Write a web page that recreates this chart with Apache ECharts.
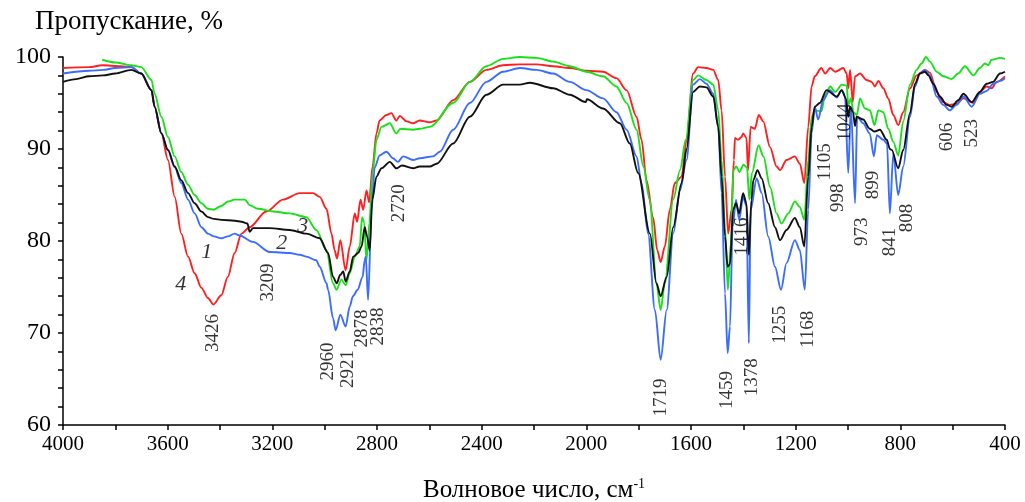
<!DOCTYPE html>
<html>
<head>
<meta charset="utf-8">
<script src="https://cdn.jsdelivr.net/npm/echarts@6/dist/echarts.min.js"></script>
<style>
  html, body { margin: 0; padding: 0; background: #fff; }
  #chart { width: 1025px; height: 502px; }
</style>
</head>
<body>
<div id="chart"></div>
<script>
// wavenumber (cm-1), transmittance (%)
var curve1 = [[4000,97.3],[3950,97.6],[3900,97.9],[3847,98.0],[3800,98.2],[3739,98.6],[3701,98.2],[3662,96.4],[3650,94.6],[3624,91.7],[3599,89.9],[3573,88.1],[3548,86.6],[3522,85.2],[3497,84.1],[3471,83.2],[3446,82.6],[3423,82.4],[3395,82.3],[3344,82.2],[3318,82.1],[3295,81.9],[3287,81.0],[3274,81.4],[3210,81.4],[3134,81.2],[3070,80.8],[3019,80.3],[2987,78.7],[2968,76.1],[2954,75.4],[2941,76.3],[2929,76.7],[2920,75.6],[2904,76.7],[2891,78.3],[2872,78.7],[2859,79.4],[2847,81.5],[2838,80.5],[2828,79.0],[2818,84.5],[2802,87.0],[2783,87.9],[2751,88.6],[2726,87.9],[2705,88.2],[2662,87.9],[2637,88.1],[2598,88.1],[2572,88.4],[2509,90.6],[2445,93.5],[2382,95.9],[2318,97.0],[2254,97.0],[2216,97.2],[2127,96.6],[2063,95.9],[2002,95.1],[1998,95.4],[1936,94.4],[1872,92.8],[1834,90.6],[1802,87.4],[1757,80.8],[1732,75.4],[1716,74.0],[1693,76.1],[1668,81.5],[1636,86.3],[1617,90.0],[1592,96.2],[1566,96.8],[1541,96.7],[1515,95.7],[1496,92.4],[1483,87.0],[1470,80.5],[1460,77.2],[1451,77.5],[1439,83.4],[1428,84.1],[1416,83.0],[1401,85.2],[1388,84.1],[1379,78.5],[1369,84.5],[1362,86.6],[1346,87.7],[1330,86.8],[1305,84.1],[1279,81.5],[1260,80.1],[1235,81.2],[1203,82.5],[1184,81.5],[1167,79.4],[1152,87.0],[1139,92.4],[1127,94.6],[1108,95.0],[1082,96.4],[1043,95.7],[1024,96.4],[1008,95.5],[999,93.5],[992,94.6],[981,94.0],[973,92.5],[967,93.5],[942,93.2],[917,92.2],[898,91.9],[878,92.1],[852,91.0],[840,90.0],[833,89.9],[808,87.9],[789,89.9],[763,93.9],[744,97.1],[725,98.2],[706,98.4],[693,98.0],[674,97.1],[649,95.7],[623,94.8],[604,94.6],[579,95.3],[559,96.0],[527,95.1],[496,96.2],[470,97.1],[446,97.3],[419,98.2],[400,98.4]];

var curve2 = [[4000,98.2],[3900,98.5],[3847,98.6],[3800,98.8],[3739,98.9],[3701,98.2],[3662,96.4],[3650,94.6],[3624,91.7],[3599,89.9],[3573,88.0],[3548,86.3],[3522,84.5],[3497,83.0],[3471,81.5],[3446,80.8],[3423,80.5],[3395,80.3],[3370,80.5],[3344,80.8],[3325,80.6],[3274,79.9],[3210,78.8],[3134,78.7],[3095,78.5],[3070,78.3],[3032,77.9],[3019,77.2],[2993,75.4],[2987,74.7],[2968,71.6],[2958,70.3],[2940,72.0],[2920,70.7],[2904,72.9],[2892,74.0],[2874,74.7],[2855,76.1],[2847,77.9],[2843,78.3],[2834,73.6],[2821,83.2],[2809,88.0],[2790,89.3],[2764,89.7],[2739,89.0],[2720,88.6],[2700,89.2],[2662,88.8],[2637,89.0],[2586,89.2],[2560,89.7],[2509,92.1],[2445,95.0],[2382,97.3],[2318,98.4],[2254,98.8],[2190,98.6],[2127,98.2],[2063,97.3],[2000,96.4],[1936,95.5],[1885,94.0],[1846,92.1],[1808,89.2],[1789,86.3],[1764,80.8],[1738,72.5],[1716,67.1],[1693,72.5],[1668,80.8],[1642,85.5],[1617,88.8],[1592,97.0],[1566,97.6],[1541,97.1],[1515,96.0],[1496,92.4],[1483,85.2],[1470,74.3],[1460,67.8],[1451,70.7],[1441,81.5],[1428,84.5],[1416,82.3],[1401,84.8],[1388,83.8],[1379,68.9],[1372,83.4],[1349,86.8],[1330,85.2],[1305,80.5],[1279,77.2],[1256,74.7],[1235,77.6],[1203,80.1],[1184,79.0],[1165,74.7],[1152,83.4],[1139,91.7],[1127,94.6],[1114,93.2],[1095,95.3],[1069,96.4],[1043,95.6],[1024,96.4],[1012,95.8],[999,87.4],[989,94.6],[973,84.1],[965,93.5],[942,92.8],[917,91.7],[901,89.2],[890,91.5],[865,91.0],[851,90.6],[840,83.0],[827,89.5],[808,85.0],[789,88.1],[763,93.5],[744,96.8],[725,98.2],[706,98.6],[687,98.0],[661,95.7],[636,94.8],[611,94.2],[585,94.8],[559,95.7],[527,94.6],[496,96.0],[470,96.3],[445,97.1],[419,97.4],[400,97.7]];

var curve3 = [[3850,99.7],[3800,99.4],[3740,99.1],[3701,98.9],[3662,97.5],[3650,96.0],[3624,93.5],[3599,91.3],[3573,89.2],[3548,87.5],[3522,86.1],[3497,85.0],[3471,84.1],[3446,83.5],[3425,83.4],[3395,83.8],[3370,84.3],[3344,84.5],[3305,84.5],[3287,83.9],[3255,83.5],[3197,83.2],[3134,83.0],[3070,82.6],[3032,81.2],[2993,79.0],[2968,75.4],[2955,74.7],[2936,75.8],[2920,75.2],[2904,76.5],[2885,78.3],[2866,79.4],[2857,82.6],[2849,82.0],[2840,77.9],[2829,82.0],[2817,87.4],[2802,91.0],[2783,92.4],[2751,92.8],[2726,91.7],[2710,92.2],[2662,92.1],[2637,92.2],[2598,92.4],[2509,95.0],[2445,97.3],[2382,99.0],[2318,99.8],[2254,100.0],[2190,99.9],[2127,99.5],[2063,99.0],[2000,98.4],[1936,97.9],[1885,96.8],[1846,95.0],[1808,92.1],[1782,88.1],[1758,84.5],[1732,75.4],[1716,72.5],[1700,75.4],[1668,84.5],[1642,87.7],[1620,91.0],[1592,97.5],[1573,98.0],[1541,97.5],[1515,97.0],[1496,94.2],[1483,88.8],[1470,81.5],[1459,74.7],[1448,79.7],[1438,87.7],[1427,88.1],[1415,87.5],[1399,88.3],[1386,88.0],[1377,84.5],[1367,87.4],[1342,90.4],[1323,89.2],[1298,85.9],[1273,83.0],[1254,81.9],[1228,83.0],[1203,84.3],[1184,83.7],[1167,82.3],[1152,88.8],[1139,93.5],[1127,94.2],[1102,94.1],[1087,95.9],[1068,96.8],[1049,96.2],[1023,97.0],[1005,96.9],[999,94.8],[989,95.5],[979,94.0],[966,93.7],[954,95.5],[935,94.4],[916,94.2],[899,92.6],[884,94.2],[865,94.0],[846,92.2],[827,90.8],[808,89.3],[789,93.0],[763,97.0],[738,98.6],[719,99.3],[702,100.0],[687,99.5],[661,98.4],[636,97.9],[604,97.6],[579,98.2],[553,99.0],[521,98.0],[496,98.8],[477,99.3],[464,99.1],[451,99.7],[419,99.9],[400,99.8]];

var curve4 = [[4000,98.8],[3900,98.9],[3850,99.1],[3780,99.0],[3739,98.9],[3701,98.2],[3662,96.4],[3650,94.6],[3624,91.7],[3599,88.8],[3573,84.8],[3548,80.8],[3522,78.3],[3497,76.5],[3471,74.9],[3446,73.8],[3425,73.1],[3395,74.1],[3370,76.1],[3344,78.7],[3318,80.8],[3287,81.5],[3223,83.2],[3159,84.5],[3095,85.2],[3044,85.2],[3019,84.8],[2993,83.5],[2974,80.8],[2962,79.0],[2953,78.1],[2940,80.1],[2920,76.8],[2904,79.4],[2885,83.0],[2876,82.1],[2863,84.5],[2853,83.4],[2840,85.5],[2830,84.2],[2817,88.1],[2802,91.7],[2790,93.1],[2764,93.7],[2745,93.9],[2726,93.1],[2713,93.6],[2687,93.0],[2662,92.8],[2637,93.1],[2598,92.9],[2572,93.1],[2509,95.3],[2445,97.3],[2382,98.6],[2318,99.1],[2254,99.2],[2190,99.2],[2127,99.0],[2063,98.8],[2000,98.5],[1936,98.4],[1885,97.7],[1846,96.4],[1808,93.5],[1789,91.0],[1770,86.6],[1745,82.6],[1729,79.0],[1716,77.7],[1700,79.4],[1681,83.4],[1662,86.3],[1636,87.0],[1617,91.0],[1592,98.2],[1573,98.9],[1541,98.8],[1515,98.6],[1496,97.5],[1483,94.2],[1470,87.0],[1458,80.8],[1445,83.4],[1436,88.8],[1432,91.2],[1420,91.0],[1407,91.3],[1401,91.7],[1388,91.2],[1382,87.7],[1372,92.4],[1356,92.2],[1341,93.7],[1324,93.0],[1298,90.2],[1273,88.1],[1260,87.7],[1235,88.8],[1203,89.2],[1184,88.4],[1167,86.3],[1152,92.4],[1139,96.8],[1127,97.9],[1102,98.8],[1087,98.2],[1068,98.8],[1049,98.4],[1018,98.8],[1005,98.2],[999,96.6],[992,98.6],[982,95.1],[973,97.9],[954,98.2],[929,97.5],[910,97.3],[897,96.8],[884,97.4],[865,96.6],[846,95.5],[827,93.7],[808,92.6],[789,94.0],[763,96.6],[738,98.0],[706,98.6],[687,98.3],[661,96.2],[636,95.1],[611,94.8],[585,94.9],[559,95.5],[521,95.0],[496,96.2],[470,96.8],[451,96.6],[432,97.3],[400,97.9]];

var xTicks = [4000, 3600, 3200, 2800, 2400, 2000, 1600, 1200, 800, 400];
var yTicks = [60, 70, 80, 90, 100];

var peakText = ['3426','3209','2960','2921','2878','2838','2720','1719','1459','1416','1378','1255','1168','1105','1044','998','973','899','841','808','606','523'];
// where each peak caption sits (axis units)
var peakAnchor = [[3426,70.0],[3218,75.5],[2988,66.9],[2912,66.1],[2858,70.5],[2797,70.7],[2717,84.1],[1715,63.0],[1463,63.8],[1406,80.5],[1368,65.2],[1260,70.9],[1153,70.4],[1088,88.6],[1012,92.9],[1040,84.7],[947,81.0],[905,86.1],[840,79.9],[775,82.5],[622,91.3],[526,91.7]];

var curveNames = ['1', '2', '3', '4'];
var curveAnchor = [[3451,78.8],[3164,79.8],[3084,81.6],[3550,75.3]];

var serif = 'Liberation Serif';

function lineSeries(name, data, color) {
  return {
    name: name,
    type: 'line',
    data: data,
    showSymbol: false,
    smooth: 0.3,
    smoothMonotone: 'x',
    lineStyle: { color: color, width: 1.9 },
    itemStyle: { color: color },
    silent: true
  };
}

var myChart = echarts.init(document.getElementById('chart'));

myChart.setOption({
  animation: false,
  backgroundColor: '#fff',
  grid: { left: 63, right: 20, top: 57, bottom: 77, outerBoundsMode: 'none' },
  xAxis: {
    type: 'value',
    inverse: true,
    min: 400,
    max: 4000,
    interval: 400,
    name: '{a|Волновое число, см}{s|-1}',
    nameLocation: 'middle',
    nameGap: 52,
    nameTextStyle: {
      rich: {
        a: { fontFamily: serif, fontSize: 25, color: '#000' },
        s: { fontFamily: serif, fontSize: 14, color: '#000', verticalAlign: 'top', padding: [0, 0, 12, 0] }
      }
    },
    axisLine: { show: true, lineStyle: { color: '#000', width: 1.5 } },
    axisTick: { show: true, length: 5, lineStyle: { color: '#000', width: 1.5 } },
    minorTick: { show: true, splitNumber: 2, length: 5, lineStyle: { color: '#000', width: 1.5 } },
    splitLine: { show: false },
    axisLabel: {
      margin: 9,
      fontFamily: serif,
      fontSize: 21,
      color: '#000',
      formatter: function (v) { return xTicks.indexOf(v) >= 0 ? String(v) : ''; }
    }
  },
  yAxis: {
    type: 'value',
    min: 60,
    max: 100,
    interval: 10,
    name: 'Пропускание, %',
    nameLocation: 'end',
    nameGap: 22,
    nameTextStyle: { fontFamily: serif, fontSize: 27, color: '#000', align: 'left', padding: [0, 0, 0, -28] },
    axisLine: { show: true, lineStyle: { color: '#000', width: 1.5 } },
    axisTick: { show: true, length: 5, lineStyle: { color: '#000', width: 1.5 } },
    minorTick: { show: true, splitNumber: 5, length: 5, lineStyle: { color: '#000', width: 1.5 } },
    splitLine: { show: false },
    axisLabel: {
      margin: 12,
      fontFamily: serif,
      fontSize: 24,
      color: '#000',
      formatter: function (v) { return yTicks.indexOf(v) >= 0 ? String(v) : ''; }
    }
  },
  series: [
    lineSeries('4', curve4, '#ff1f1f'),
    lineSeries('3', curve3, '#19e019'),
    lineSeries('2', curve2, '#3a6cff'),
    lineSeries('1', curve1, '#111111'),
    {
      type: 'scatter',
      data: peakAnchor,
      symbolSize: 0,
      silent: true,
      z: 5,
      label: {
        show: true,
        position: 'inside',
        rotate: 90,
        fontFamily: serif,
        fontSize: 19,
        color: '#000',
        formatter: function (p) { return peakText[p.dataIndex]; }
      }
    },
    {
      type: 'scatter',
      data: curveAnchor,
      symbolSize: 0,
      silent: true,
      z: 5,
      label: {
        show: true,
        position: 'inside',
        fontFamily: serif,
        fontStyle: 'italic',
        fontSize: 22,
        color: '#000',
        formatter: function (p) { return curveNames[p.dataIndex]; }
      }
    }
  ]
});
</script>
</body>
</html>
